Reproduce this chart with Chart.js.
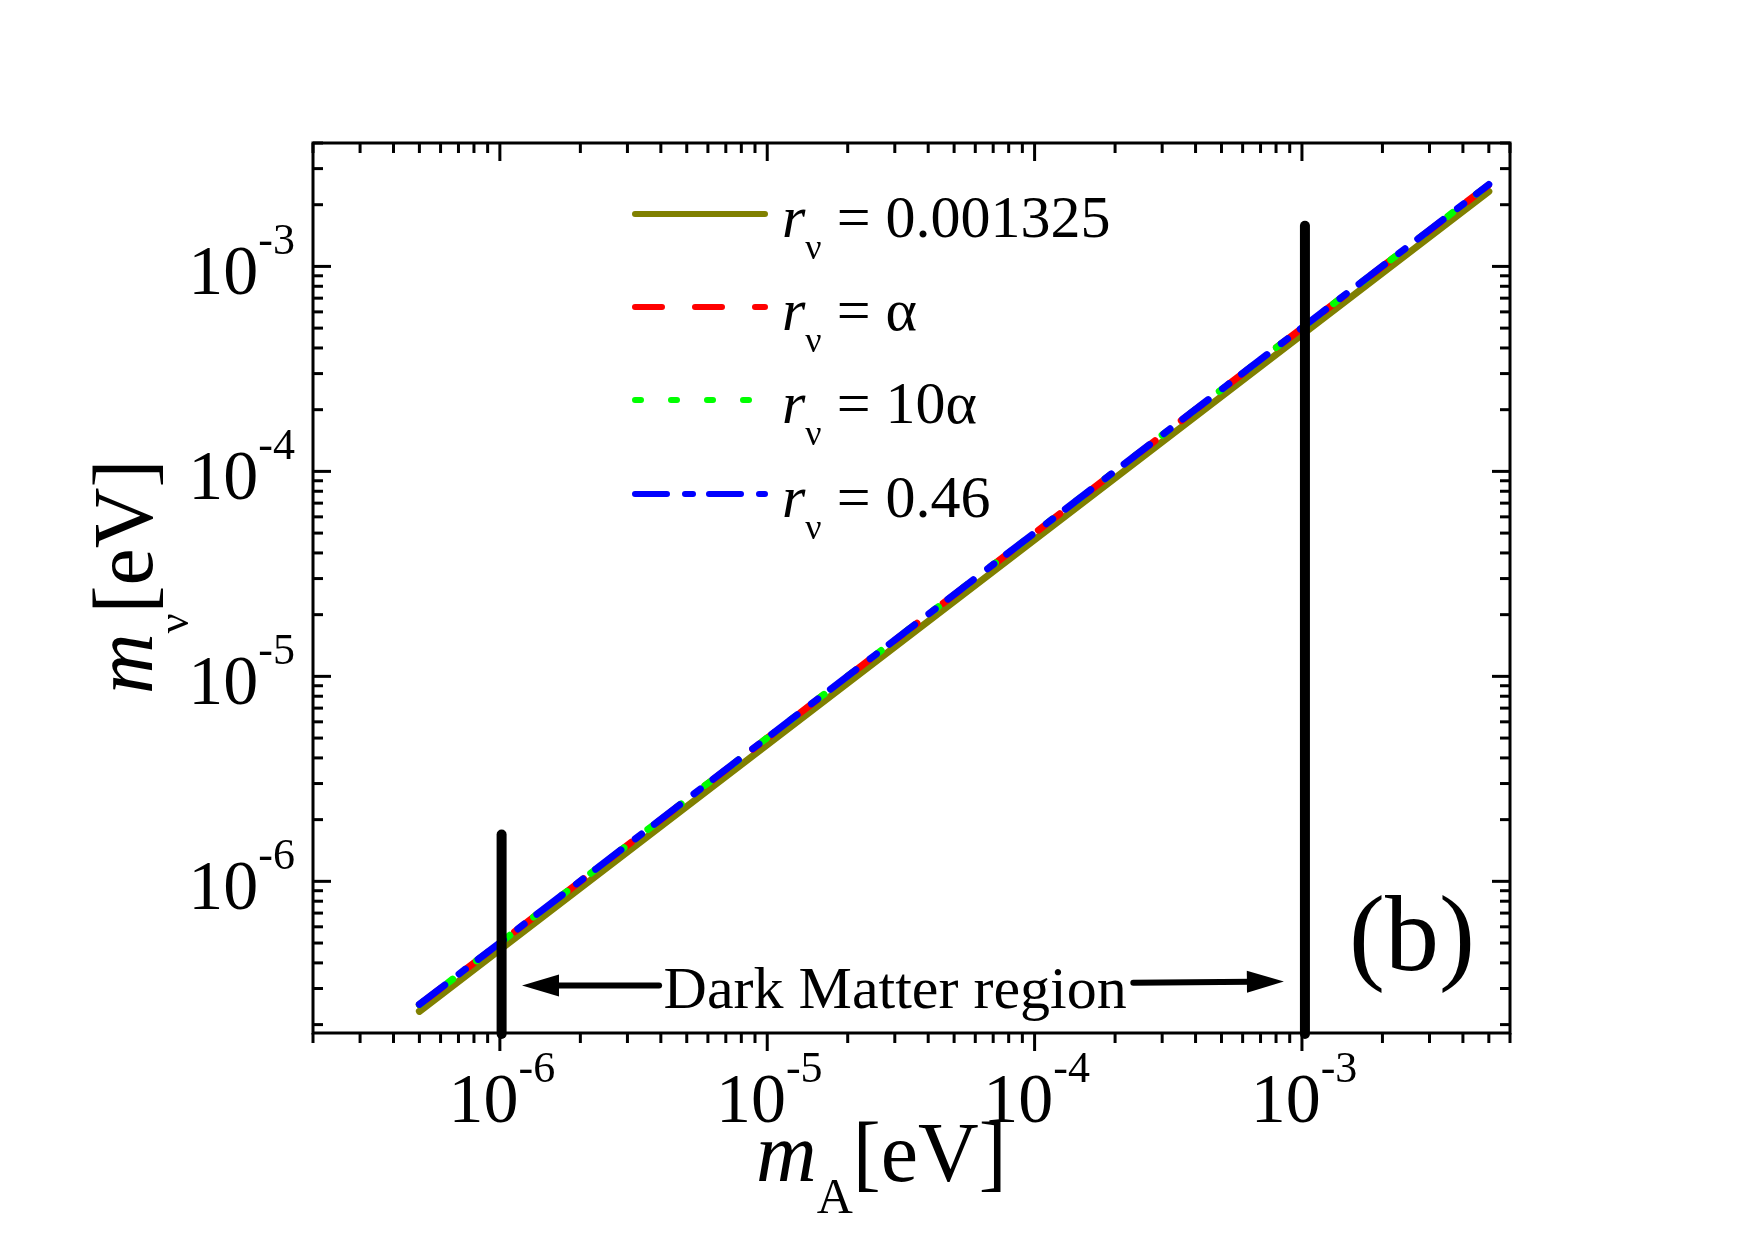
<!DOCTYPE html>
<html><head><meta charset="utf-8">
<script src="https://cdn.jsdelivr.net/npm/chart.js@4.4.1/dist/chart.umd.min.js"></script>
<style>html,body{margin:0;padding:0;background:#fff;}canvas{display:block;}</style>
</head><body>
<canvas id="c" width="1755" height="1240"></canvas>
<script>
// ---- data ----
const mA          = [5e-7, 1e-6, 1e-5, 1e-4, 1e-3, 5e-3];          // x: m_A [eV]
const mNuR001325  = [2.32e-7, 4.64e-7, 4.64e-6, 4.64e-5, 4.64e-4, 2.32e-3];
const mNuAlpha    = [2.50e-7, 5.00e-7, 5.00e-6, 5.00e-5, 5.00e-4, 2.50e-3];
const mNu10Alpha  = [2.50e-7, 5.01e-7, 5.01e-6, 5.01e-5, 5.01e-4, 2.50e-3];
const mNu046      = [2.51e-7, 5.02e-7, 5.02e-6, 5.02e-5, 5.02e-4, 2.51e-3];
const seriesValues = ['0.001325', 'α', '10α', '0.46'];
const seriesColors = ['#808000', '#ff0000', '#00ff00', '#0000ff'];

const dmBoundaryX      = [1.015e-6, 1.026e-3];
const dmBoundaryTop    = [1.69e-6, 1.58e-3];
const dmBoundaryBottom = [1.8e-7, 1.8e-7];

const xRange = [2e-7, 6e-3];
const yRange = [1.82e-7, 4e-3];
const xMajorExps = [-6, -5, -4, -3];
const yMajorExps = [-6, -5, -4, -3];
const tickDecades = [-7, -6, -5, -4, -3, -2];
const tickMantissas = [1, 2, 3, 4, 5, 6, 7, 8, 9];

const regionLabel = 'Dark Matter region';
const regionLabelAt = [3.01e-5, 2.42e-7];
const leftArrow  = {tail: [3.94e-6, 3.10e-7], tip: [1.21e-6, 3.10e-7]};
const rightArrow = {tail: [2.34e-4, 3.20e-7], tip: [8.56e-4, 3.25e-7]};
const panelLabel = '(b)';
const panelLabelAt = [1.50e-3, 3.71e-7];

// ---- helpers ----
const pts = (xs, ys) => xs.map((x, i) => ({x: x, y: ys[i]}));
function logTicks(range) {
  const out = [];
  tickDecades.forEach(d => tickMantissas.forEach(m => {
    const v = Number((m * Math.pow(10, d)).toPrecision(3));
    if (v >= range[0] * 0.999 && v <= range[1] * 1.001) out.push({value: v, major: m === 1});
  }));
  return out;
}
const FONT = '"Liberation Serif", "Times New Roman", serif';
const dashes = [[], [27, 33], [6, 30], [32, 18, 8, 16]];

const lineDs = (vals, idx, order) => ({
  data: pts(mA, vals), borderColor: seriesColors[idx], borderWidth: 7,
  borderDash: dashes[idx], borderCapStyle: 'round', borderJoinStyle: 'round',
  pointRadius: 0, fill: false, tension: 0, order: order
});
const vlineDs = (i) => ({
  data: [{x: dmBoundaryX[i], y: dmBoundaryBottom[i]}, {x: dmBoundaryX[i], y: dmBoundaryTop[i]}],
  borderColor: '#000', borderWidth: 10, borderCapStyle: 'round', pointRadius: 0,
  fill: false, clip: false, order: 0
});

const deco = {
  id: 'deco',
  afterDraw(chart) {
    const ctx = chart.ctx;
    const {left, right, top, bottom} = chart.chartArea;
    const xs = chart.scales.x, ys = chart.scales.y;
    const X = v => xs.getPixelForValue(v), Y = v => ys.getPixelForValue(v);
    ctx.save();
    ctx.strokeStyle = '#000'; ctx.fillStyle = '#000';
    const seg = (a, b, c, d) => { ctx.beginPath(); ctx.moveTo(a, b); ctx.lineTo(c, d); ctx.stroke(); };
    // frame
    ctx.lineWidth = 3; ctx.lineCap = 'square';
    ctx.strokeRect(left, top, right - left, bottom - top);
    ctx.lineCap = 'butt';
    xs.ticks.forEach(t => {
      const px = X(t.value); const len = t.major ? 18 : 10;
      seg(px, bottom, px, bottom + len);
      seg(px, top, px, top + len);
    });
    ys.ticks.forEach(t => {
      const py = Y(t.value); const len = t.major ? 18 : 10;
      seg(left, py, left + len, py);
      seg(right, py, right - len, py);
    });
    // tick labels 10^n
    ctx.textBaseline = 'alphabetic'; ctx.textAlign = 'left';
    function pow10(exp, ax, base, align) {
      const sup = String(exp);
      ctx.font = '70px ' + FONT; const wm = ctx.measureText('10').width;
      ctx.font = '44px ' + FONT; const ws = ctx.measureText(sup).width;
      const x0 = align === 'center' ? ax - (wm + ws) / 2 : ax - (wm + ws);
      ctx.font = '70px ' + FONT; ctx.fillText('10', x0, base);
      ctx.font = '44px ' + FONT; ctx.fillText(sup, x0 + wm, base - 40);
    }
    xMajorExps.forEach(e => pow10(e, X(Math.pow(10, e)) + 2, bottom + 89, 'center'));
    yMajorExps.forEach(e => pow10(e, left - 18, Y(Math.pow(10, e)) + 28, 'right'));
    // x title
    let x0 = 756, b = 1181;
    ctx.font = 'italic 84px ' + FONT; ctx.fillText('m', x0, b); x0 += ctx.measureText('m').width;
    ctx.font = '50px ' + FONT; ctx.fillText('A', x0, b + 32); x0 += ctx.measureText('A').width;
    ctx.font = '84px ' + FONT; ctx.fillText('[eV]', x0, b);
    // y title
    ctx.save(); ctx.translate(152, 694); ctx.rotate(-Math.PI / 2);
    let t0 = 0;
    ctx.font = 'italic 84px ' + FONT; ctx.fillText('m', t0, 0); t0 += ctx.measureText('m').width;
    ctx.font = '44px ' + FONT; ctx.fillText('ν', t0, 36); t0 += ctx.measureText('ν').width;
    ctx.font = '84px ' + FONT; ctx.fillText('[eV]', t0, 0);
    ctx.restore();
    // legend
    const lb = [237, 330, 423, 517];
    seriesValues.forEach((val, i) => {
      const ly = lb[i] - 23;
      ctx.save();
      ctx.strokeStyle = seriesColors[i]; ctx.lineWidth = 6; ctx.lineCap = 'round';
      ctx.setLineDash(dashes[i]);
      seg(635, ly, 765, ly);
      ctx.restore();
      let tx = 782;
      ctx.font = 'italic 60px ' + FONT; ctx.fillText('r', tx, lb[i]); tx += ctx.measureText('r').width;
      ctx.font = '36px ' + FONT; ctx.fillText('ν', tx, lb[i] + 22); tx += ctx.measureText('ν').width;
      ctx.font = '60px ' + FONT; ctx.fillText(' = ' + val, tx, lb[i]);
    });
    // annotation: Dark Matter region + arrows
    ctx.font = '60px ' + FONT; ctx.textAlign = 'center';
    ctx.fillText(regionLabel, X(regionLabelAt[0]), Y(regionLabelAt[1]));
    ctx.textAlign = 'left';
    function arrow(a) {
      const x1 = X(a.tail[0]), y1 = Y(a.tail[1]), x2 = X(a.tip[0]), y2 = Y(a.tip[1]);
      const ang = Math.atan2(y2 - y1, x2 - x1), hl = 37, hw = 11;
      const bx = x2 - hl * Math.cos(ang), by = y2 - hl * Math.sin(ang);
      ctx.lineWidth = 6; ctx.lineCap = 'round';
      seg(x1, y1, bx + 4 * Math.cos(ang), by + 4 * Math.sin(ang));
      ctx.beginPath();
      ctx.moveTo(x2, y2);
      ctx.lineTo(bx + hw * Math.sin(ang), by - hw * Math.cos(ang));
      ctx.lineTo(bx, by);
      ctx.lineTo(bx - hw * Math.sin(ang), by + hw * Math.cos(ang));
      ctx.closePath(); ctx.fill();
    }
    arrow(leftArrow); arrow(rightArrow);
    // panel label
    ctx.font = '108px ' + FONT;
    ctx.fillText(panelLabel, X(panelLabelAt[0]), Y(panelLabelAt[1]));
    ctx.restore();
  }
};

new Chart(document.getElementById('c'), {
  type: 'line',
  data: {
    datasets: [
      lineDs(mNuR001325, 0, 4),
      lineDs(mNuAlpha, 1, 3),
      lineDs(mNu10Alpha, 2, 2),
      lineDs(mNu046, 3, 1),
      vlineDs(0), vlineDs(1)
    ]
  },
  options: {
    responsive: false, animation: false, devicePixelRatio: 1, events: [],
    layout: {padding: {left: 313, top: 143, right: 245, bottom: 207}},
    plugins: {legend: {display: false}, tooltip: {enabled: false}},
    scales: {
      x: {type: 'logarithmic', min: xRange[0], max: xRange[1],
          afterBuildTicks: s => { s.ticks = logTicks(xRange); },
          ticks: {display: false}, grid: {display: false, drawTicks: false}, border: {display: false}},
      y: {type: 'logarithmic', min: yRange[0], max: yRange[1],
          afterBuildTicks: s => { s.ticks = logTicks(yRange); },
          ticks: {display: false}, grid: {display: false, drawTicks: false}, border: {display: false}}
    }
  },
  plugins: [deco]
});
</script>
</body></html>
